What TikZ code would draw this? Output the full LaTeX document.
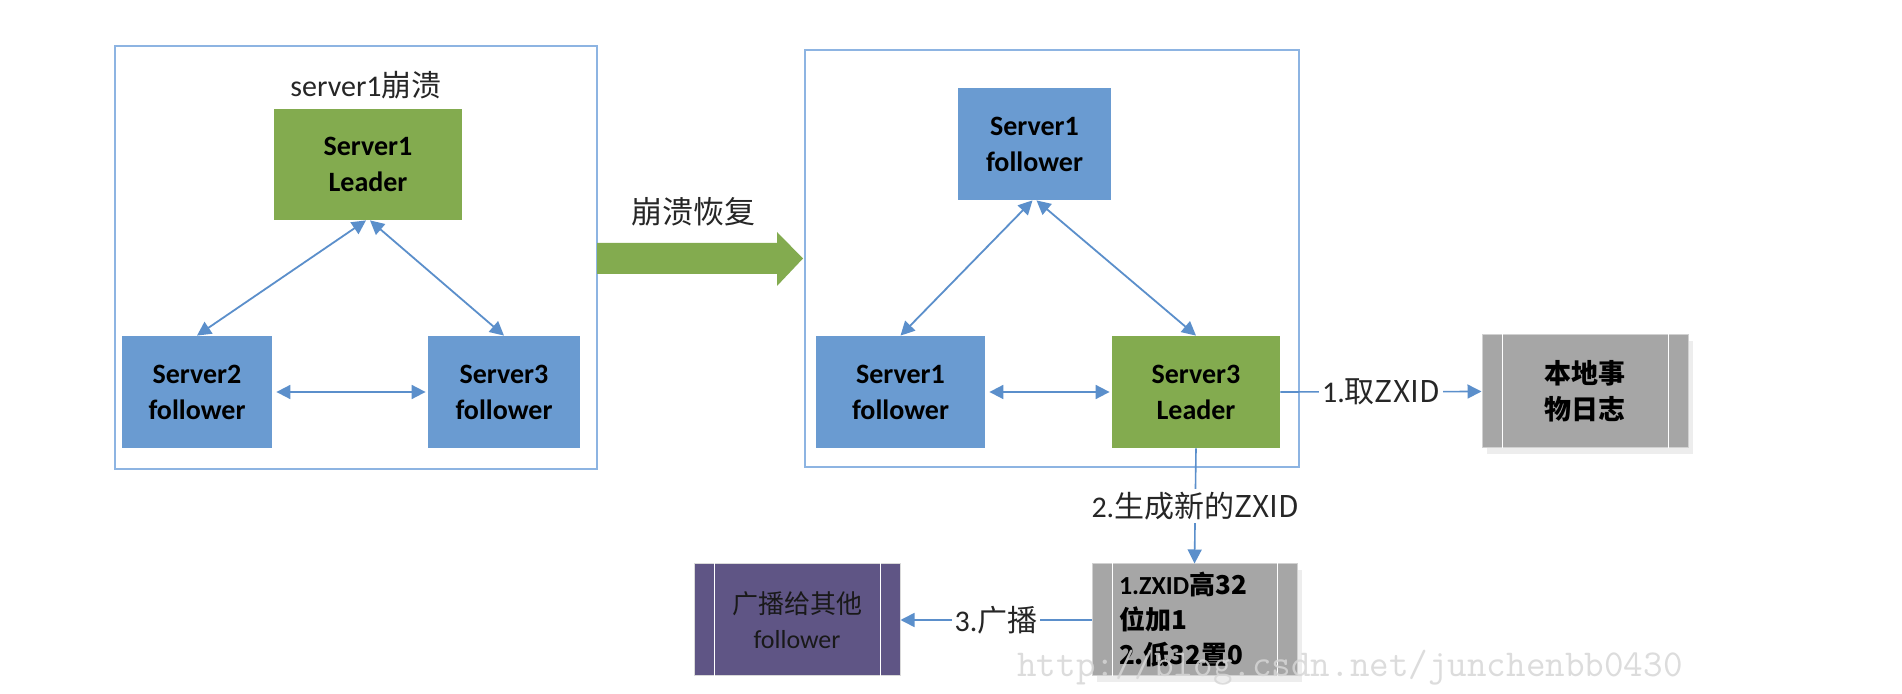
\documentclass[tikz,border=0pt]{standalone}
\usepackage{fontspec}
\setmainfont{Carlito}
\newfontfamily\cjk{Noto Sans CJK SC}
\usetikzlibrary{arrows.meta,shadows,calc}
\definecolor{boxblue}{HTML}{6A9BD1}
\definecolor{boxgreen}{HTML}{83AB4F}
\definecolor{frameblue}{HTML}{8DB4E2}
\definecolor{arrowblue}{HTML}{5B8FCB}
\definecolor{boxgray}{HTML}{A6A6A6}
\definecolor{boxpurple}{HTML}{5F5585}
\begin{document}
\begin{tikzpicture}[x=0.5pt,y=-0.5pt,
  frame/.style={draw=frameblue, line width=1pt, inner sep=0pt},
  srv/.style={fill=boxblue, font=\fontsize{14}{18}\selectfont\bfseries, align=center, inner sep=0pt, minimum height=56pt},
  lead/.style={srv, fill=boxgreen},
  gbox/.style={fill=boxgray, draw=black!18, line width=0.5pt, align=center, inner sep=0pt, minimum height=56pt,
    drop shadow={shadow xshift=2.5pt, shadow yshift=-3pt, fill=black!7, opacity=1},
    font=\fontsize{13.5}{18}\selectfont\bfseries},
  pbox/.style={fill=boxpurple, draw=black!15, line width=0.5pt, align=center, inner sep=0pt, minimum height=56pt,
    font=\fontsize{13}{17.5}\selectfont, text=black!90},
  conn/.style={draw=arrowblue, line width=0.9pt, {Triangle[length=7pt,width=7pt]}-{Triangle[length=7pt,width=7pt]}},
  one/.style={draw=arrowblue, line width=0.8pt, -{Triangle[length=7pt,width=7pt]}},
  lbl/.style={font=\fontsize{15}{18}\selectfont, text=black!85, fill=white, inner sep=1.5pt},
  sep/.style={draw=white, line width=0.8pt}
]
\fill[white] (0,0) rectangle (1902,694);
\useasboundingbox (0,0) rectangle (1902,694);

% left panel
\node[frame, minimum width=241pt, minimum height=211.5pt] (frameL) at (356,257.5) {};
\node[font=\fontsize{15}{18}\selectfont, text=black!85] (t1) at (366,85) {server1\cjk{崩溃}};
\node[lead, minimum width=94pt, minimum height=55.5pt] (ld1) at (368,164.5) {Server1\\Leader};
\node[srv, minimum width=75pt] (s2) at (197,392) {Server2\\follower};
\node[srv, minimum width=76pt] (s3) at (504,392) {Server3\\follower};
\draw[conn] ([xshift=-1pt]ld1.south) -- (s2.north);
\draw[conn] ([xshift=1pt]ld1.south) -- (s3.north);
\draw[conn, shorten <=2pt, shorten >=1pt] (s2.east) -- (s3.west);

% big arrow
\fill[boxgreen] (597,243) -- (777,243) -- (777,232) -- (803,258.5) -- (777,286) -- (777,274) -- (597,274) -- cycle;
\node[font=\fontsize{15.5}{18}\selectfont, text=black!85] (t2) at (693,212) {\cjk{崩溃恢复}};

% right panel
\node[frame, minimum width=247pt, minimum height=208.5pt] (frameR) at (1052,258.5) {};
\node[srv, minimum width=76.5pt] (f1t) at (1034.5,144) {Server1\\follower};
\node[srv, minimum width=84.5pt] (f1b) at (900.5,392) {Server1\\follower};
\node[lead, minimum width=84pt] (ld3) at (1196,392) {Server3\\Leader};
\draw[conn] ([xshift=-1pt]f1t.south) -- (f1b.north);
\draw[conn] ([xshift=1pt]f1t.south) -- (ld3.north);
\draw[conn, shorten <=2pt, shorten >=1pt] (f1b.east) -- (ld3.west);

% side boxes
\node[gbox, minimum width=103pt, minimum height=56.5pt] (log) at (1585,391.5) {\cjk{本地事}\\\cjk{物日志}};
\node[gbox, minimum width=102.5pt, text width=75.5pt, align=left, font=\fontsize{13}{17.5}\selectfont\bfseries] (gen) at (1194.5,620) {1.ZXID\cjk{高}32\\\cjk{位加}1\\2.\cjk{低}32\cjk{置}0};
\node[pbox, minimum width=103pt] (bc) at (797,620) {\cjk{广播给其他}\\follower};
\foreach \n in {log,gen,bc} {
  \draw[sep] ([xshift=10.5pt]\n.north west) -- ([xshift=10.5pt]\n.south west);
  \draw[sep] ([xshift=-10pt]\n.north east) -- ([xshift=-10pt]\n.south east);
}

\draw[one] (ld3.east) -- node[lbl] (l1) {1.\cjk{取}ZXID} (log.west);
\draw[one] (ld3.south) -- node[lbl] (l2) {2.\cjk{生成新的}ZXID} (gen.north);
\draw[one] (gen.west) -- node[lbl] (l3) {3.\cjk{广播}} (bc.east);

% watermark
\node[text=black!16, font=\ttfamily\fontsize{19}{19}\selectfont, opacity=0.85] (wm) at (1350,668) {http://blog.csdn.net/junchenbb0430};
\end{tikzpicture}
\end{document}
